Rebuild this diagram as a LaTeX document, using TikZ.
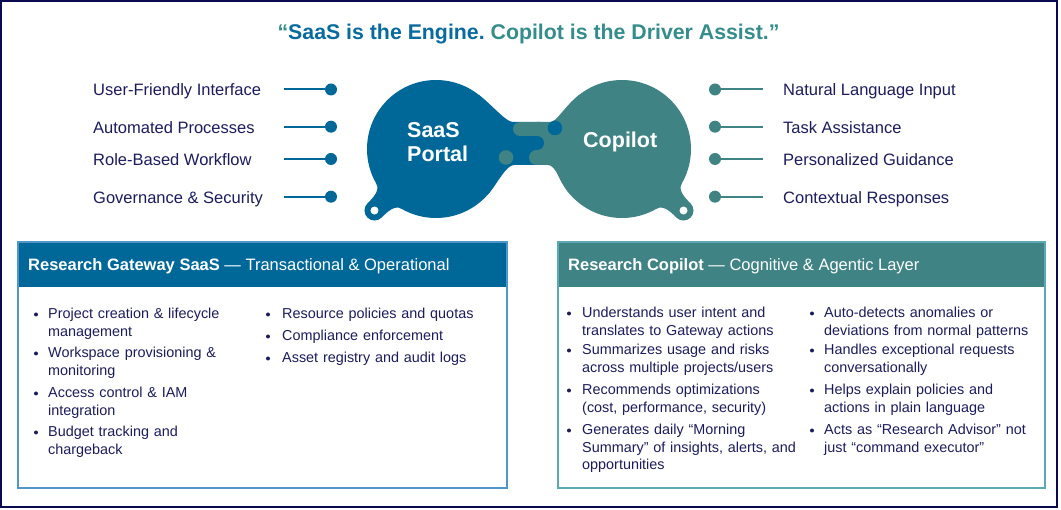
\documentclass[tikz,border=0pt]{standalone}
\usepackage{fontspec}
\setmainfont{Liberation Sans}
\usetikzlibrary{calc}
\frenchspacing
\definecolor{saasblue}{RGB}{0,104,153}
\definecolor{copteal}{RGB}{64,131,133}
\definecolor{navytext}{RGB}{27,27,94}
\definecolor{framenavy}{RGB}{10,10,80}
\definecolor{titleblue}{RGB}{8,106,158}
\definecolor{titleteal}{RGB}{52,140,140}
\definecolor{lboxline}{RGB}{80,150,200}
\definecolor{rboxline}{RGB}{90,170,180}
\newcommand\ringtab[3]{%
  \fill[#3] ($(#1.center)+({#2-15}:69)$) .. controls +({#2-15+90}:8) and +({#2+180}:8) ..
    ($(#1.center)+(#2:87)+({#2-90}:10)$) arc[start angle={#2-90}, end angle={#2+90}, radius=10]
    .. controls +({#2+180}:8) and +({#2+15-90}:8) .. ($(#1.center)+({#2+15}:69)$) -- (#1.center) -- cycle;
  \fill[white] ($(#1.center)+(#2:87)$) circle (4);
}
\tikzset{
  ftext/.style={font=\fontsize{16.5}{20}\selectfont, text=navytext, anchor=base west, inner sep=0},
  ldot/.style={circle, fill=saasblue, minimum size=12pt, inner sep=0},
  rdot/.style={circle, fill=copteal, minimum size=12pt, inner sep=0},
  lline/.style={draw=saasblue, line width=2pt},
  rline/.style={draw=copteal, line width=2pt},
  bigcircle/.style={circle, minimum size=138pt, inner sep=0},
  ctext/.style={font=\bfseries\fontsize{21.5}{25}\selectfont, text=white, anchor=base west, inner sep=0},
  item/.style={anchor=north west, inner sep=0, text width=235pt, align=left, font=\fontsize{14.4}{17.7}\selectfont, text=navytext},
  bul/.style={circle, fill=navytext, minimum size=4pt, inner sep=0},
  head/.style={anchor=base west, inner sep=0, text=white, font=\fontsize{16.5}{20}\selectfont},
}
\begin{document}
\begin{tikzpicture}[x=1pt,y=-1pt]
\useasboundingbox (0,0) rectangle (1061,510);
\draw[framenavy, line width=1.5pt] (1,1) rectangle (1057,507);

% title
\node[anchor=base, inner sep=0, font=\bfseries\fontsize{21.3}{25}\selectfont] (title) at (528.5,39.6)
  {\textcolor{titleteal}{“}\textcolor{titleblue}{SaaS is the Engine.} \textcolor{titleteal}{Copilot is the Driver Assist.”}};

% big circles
\node[bigcircle, fill=saasblue] (saasc) at (436,149) {};
\node[bigcircle, fill=copteal] (copc) at (622,149) {};

% neck
\begin{scope}
  \clip (400,0) rectangle (540,300);
  \fill[saasblue] (479,95) .. controls (494.7,107.5) and (506,122) .. (513,122) -- (550,122)
  .. controls (557,122) and (563.3,107.5) .. (579,95) -- (600,149) -- (570.6,195)
  .. controls (560.6,183.8) and (556,165) .. (548,165) -- (514,165)
  .. controls (506,165) and (497.4,183.8) .. (487.4,195) -- (460,149) -- cycle;
\end{scope}
\begin{scope}
  \clip (537,0) rectangle (700,300);
  \fill[copteal] (479,95) .. controls (494.7,107.5) and (506,122) .. (513,122) -- (550,122)
  .. controls (557,122) and (563.3,107.5) .. (579,95) -- (600,149) -- (570.6,195)
  .. controls (560.6,183.8) and (556,165) .. (548,165) -- (514,165)
  .. controls (506,165) and (497.4,183.8) .. (487.4,195) -- (460,149) -- cycle;
\end{scope}
% fingers
\fill[copteal] (520,122) rectangle (540,136);
\fill[copteal] (520,129) circle (7);
\fill[copteal] (536.5,150) rectangle (540,165);
\fill[copteal] (536.5,157.5) circle (7.5);
\fill[saasblue] (537,143) circle (7);
\fill[saasblue] (555,128) circle (7.3);
\fill[copteal] (506,157.5) circle (7.3);

% ring tabs
\ringtab{saasc}{135}{saasblue}
\ringtab{copc}{45}{copteal}

% circle texts
\node[ctext] (saast) at (407,138) {SaaS};
\node[ctext] (portalt) at (407,162) {Portal};
\node[ctext] (copt) at (583,148) {Copilot};

% left features
\node[ftext] (lf1) at (93,96) {User-Friendly Interface};
\node[ftext] (lf2) at (93,133.2) {Automated Processes};
\node[ftext] (lf3) at (93,165.5) {Role-Based Workflow};
\node[ftext] (lf4) at (93,203.2) {Governance \& Security};
\coordinate (la1) at (284,89.5);
\coordinate (la2) at (284,126.7);
\coordinate (la3) at (284,159);
\coordinate (la4) at (284,196.7);
\node[ldot] (ld1) at (331,89.5) {};
\node[ldot] (ld2) at (331,126.7) {};
\node[ldot] (ld3) at (331,159) {};
\node[ldot] (ld4) at (331,196.7) {};
\draw[lline] (la1) -- (ld1);
\draw[lline] (la2) -- (ld2);
\draw[lline] (la3) -- (ld3);
\draw[lline] (la4) -- (ld4);

% right features
\node[ftext] (rf1) at (783,96) {Natural Language Input};
\node[ftext] (rf2) at (783,133.2) {Task Assistance};
\node[ftext] (rf3) at (783,165.5) {Personalized Guidance};
\node[ftext] (rf4) at (783,203.2) {Contextual Responses};
\coordinate (ra1) at (763,89.5);
\coordinate (ra2) at (763,126.7);
\coordinate (ra3) at (763,159);
\coordinate (ra4) at (763,196.7);
\node[rdot] (rd1) at (715,89.5) {};
\node[rdot] (rd2) at (715,126.7) {};
\node[rdot] (rd3) at (715,159) {};
\node[rdot] (rd4) at (715,196.7) {};
\draw[rline] (ra1) -- (rd1);
\draw[rline] (ra2) -- (rd2);
\draw[rline] (ra3) -- (rd3);
\draw[rline] (ra4) -- (rd4);

% left box
\fill[saasblue] (18,242) rectangle (507,287);
\draw[lboxline, line width=1.3pt] (18,242) rectangle (507,488);
\node[head] (lhead) at (28,271) {\textbf{Research Gateway SaaS} — Transactional \& Operational};
\node[item] (l1) at (48,305.8) {\strut Project creation \& lifecycle\\management};
\node[item] (l2) at (48,344.8) {\strut Workspace provisioning \&\\monitoring};
\node[item] (l3) at (48,384.8) {\strut Access control \& IAM\\integration};
\node[item] (l4) at (48,423.8) {\strut Budget tracking and\\chargeback};
\node[item] (l5) at (282,305.8) {\strut Resource policies and quotas};
\node[item] (l6) at (282,327.8) {\strut Compliance enforcement};
\node[item] (l7) at (282,349.8) {\strut Asset registry and audit logs};
\node[bul] (lb1) at (36,314.5) {};
\node[bul] (lb2) at (36,353.5) {};
\node[bul] (lb3) at (36,393.5) {};
\node[bul] (lb4) at (36,432.5) {};
\node[bul] (lb5) at (268,314.5) {};
\node[bul] (lb6) at (268,336.5) {};
\node[bul] (lb7) at (268,358.5) {};

% right box
\fill[copteal] (558,242) rectangle (1045,287);
\draw[rboxline, line width=1.3pt] (558,242) rectangle (1045,488);
\node[head] (rhead) at (568,271) {\textbf{Research Copilot} — Cognitive \& Agentic Layer};
\node[item] (r1) at (582,304.8) {\strut Understands user intent and\\translates to Gateway actions};
\node[item] (r2) at (582,341.8) {\strut Summarizes usage and risks\\across multiple projects/users};
\node[item] (r3) at (582,381.8) {\strut Recommends optimizations\\(cost, performance, security)};
\node[item] (r4) at (582,421.8) {\strut Generates daily “Morning\\Summary” of insights, alerts, and\\opportunities};
\node[item] (r5) at (824,304.8) {\strut Auto-detects anomalies or\\deviations from normal patterns};
\node[item] (r6) at (824,341.8) {\strut Handles exceptional requests\\conversationally};
\node[item] (r7) at (824,381.8) {\strut Helps explain policies and\\actions in plain language};
\node[item] (r8) at (824,421.8) {\strut Acts as “Research Advisor” not\\just “command executor”};
\node[bul] (rb1) at (569,313.5) {};
\node[bul] (rb2) at (569,350.5) {};
\node[bul] (rb3) at (569,390.5) {};
\node[bul] (rb4) at (569,430.5) {};
\node[bul] (rb5) at (812,313.5) {};
\node[bul] (rb6) at (812,350.5) {};
\node[bul] (rb7) at (812,390.5) {};
\node[bul] (rb8) at (812,430.5) {};
\end{tikzpicture}
\end{document}
